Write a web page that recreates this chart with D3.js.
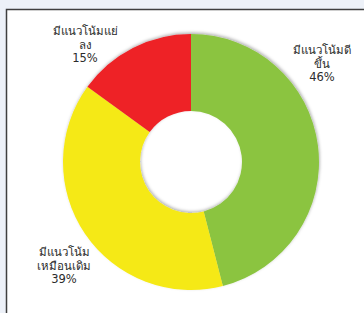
<!DOCTYPE html>
<html><head><meta charset="utf-8">
<script src="https://cdn.jsdelivr.net/npm/d3@7"></script>
<style>
html,body{margin:0;padding:0;background:#edf1f8;}
svg{display:block;}
</style></head>
<body>
<svg id="chart" width="364" height="313"></svg>
<script>
const categories = ["มีแนวโน้มดีขึ้น", "มีแนวโน้มเหมือนเดิม", "มีแนวโน้มแย่ลง"];
const labelLines = [["มีแนวโน้มดี", "ขึ้น"], ["มีแนวโน้ม", "เหมือนเดิม"], ["มีแนวโน้มแย่", "ลง"]];
const values = [46, 39, 15];
const colors = ["#8bc441", "#f5e917", "#ee2128"];
const labelPos = [[322, 54], [64, 256], [85, 35]];

const svg = d3.select("#chart");
const defs = svg.append("defs");
const f = defs.append("filter").attr("id", "sh").attr("x", "-20%").attr("y", "-20%").attr("width", "140%").attr("height", "140%");
f.append("feDropShadow").attr("dx", 0.8).attr("dy", -1.5).attr("stdDeviation", 1.5).attr("flood-color", "#000").attr("flood-opacity", 0.3);

svg.append("rect").attr("x", 6.5).attr("y", 9.5).attr("width", 400).attr("height", 400)
  .attr("fill", "#fff").attr("stroke", "#3f3f3f").attr("stroke-width", 1.5);

const cx = 191, cy = 162, R = 128, r = 51;
const pie = d3.pie().sort(null).value(d => d);
const arc = d3.arc().innerRadius(r).outerRadius(R);
const g = svg.append("g").attr("transform", `translate(${cx},${cy})`).attr("filter", "url(#sh)");
g.selectAll("path").data(pie(values)).join("path")
  .attr("d", arc).attr("fill", (d, i) => colors[i]);

const fmt = d3.format(".0%");
const total = d3.sum(values);
const lg = svg.append("g").attr("font-family", "Tahoma, 'DejaVu Sans', 'Noto Sans', sans-serif")
  .attr("font-size", 11.5).attr("fill", "#2b2b2b").attr("text-anchor", "middle");
values.forEach((v, i) => {
  const t = lg.append("text").attr("x", labelPos[i][0]).attr("y", labelPos[i][1]);
  const lines = labelLines[i].concat([fmt(v / total)]);
  lines.forEach((s, j) => t.append("tspan").attr("x", labelPos[i][0]).attr("dy", j === 0 ? 0 : 13.5).text(s));
});
</script>
</body></html>
